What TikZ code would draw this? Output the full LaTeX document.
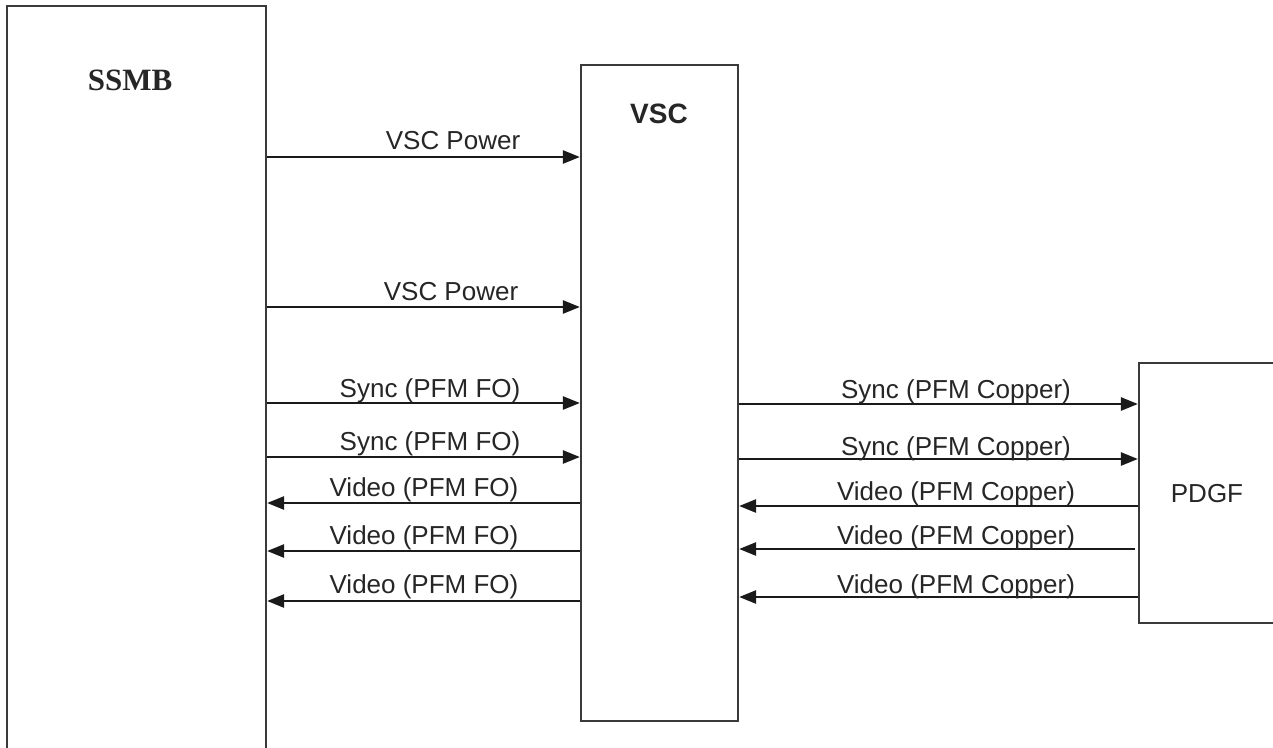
\documentclass[tikz,border=0pt]{standalone}
\usepackage{fontspec}
\setmainfont{Liberation Sans}
\newfontfamily\serifbf{Liberation Serif}
\usetikzlibrary{arrows.meta}
\definecolor{boxc}{HTML}{3A3A3A}
\definecolor{linec}{HTML}{1A1A1A}
\definecolor{txt}{HTML}{262626}
\tikzset{
  blockbox/.style={draw=boxc, line width=2.2pt, fill=none, inner sep=0pt},
  arr/.style={draw=linec, line width=2.5pt, -{Triangle[length=17pt,width=13pt]}},
  lbl/.style={text=txt, font=\fontsize{26}{30}\selectfont, anchor=base, inner sep=0pt}
}
\begin{document}
\begin{tikzpicture}[x=1pt,y=-1pt]
\clip (0,0) rectangle (1273,747);
\fill[white] (0,0) rectangle (1273,747);
% boxes
\node[blockbox, minimum width=259pt, minimum height=794pt] (ssmb) at (136.5,403) {};
\node[blockbox, minimum width=157pt, minimum height=656pt] (vsc) at (659.5,393) {};
\node[blockbox, minimum width=161pt, minimum height=260pt] (pdgf) at (1219.5,493) {};
% titles
\node[text=txt, font=\serifbf\bfseries\fontsize{31}{34}\selectfont, inner sep=0pt] (ssmbt) at (130,80) {SSMB};
\node[text=txt, font=\bfseries\fontsize{28}{32}\selectfont, inner sep=0pt] (vsct) at (659,114) {VSC};
\node[text=txt, font=\fontsize{26}{30}\selectfont, inner sep=0pt] (pdgft) at (1207,494) {PDGF};
% left arrows
\draw[arr] (ssmb.east |- 0,157) -- (vsc.west |- 0,157);
\node[lbl] (l1) at (453,149) {VSC Power};
\draw[arr] (ssmb.east |- 0,307) -- (vsc.west |- 0,307);
\node[lbl] (l2) at (451,300) {VSC Power};
\draw[arr] (ssmb.east |- 0,403) -- (vsc.west |- 0,403);
\node[lbl] (l3) at (430,397) {Sync (PFM FO)};
\draw[arr] (ssmb.east |- 0,457) -- (vsc.west |- 0,457);
\node[lbl] (l4) at (430,450) {Sync (PFM FO)};
\draw[arr] (vsc.west |- 0,503) -- (ssmb.east |- 0,503);
\node[lbl] (l5) at (424,496) {Video (PFM FO)};
\draw[arr] (vsc.west |- 0,551) -- (ssmb.east |- 0,551);
\node[lbl] (l6) at (424,544) {Video (PFM FO)};
\draw[arr] (vsc.west |- 0,601) -- (ssmb.east |- 0,601);
\node[lbl] (l7) at (424,593) {Video (PFM FO)};
% right arrows
\draw[arr] (vsc.east |- 0,404) -- (pdgf.west |- 0,404);
\node[lbl] (r1) at (956,398) {Sync (PFM Copper)};
\draw[arr] (vsc.east |- 0,459) -- (pdgf.west |- 0,459);
\node[lbl] (r2) at (956,455) {Sync (PFM Copper)};
\draw[arr] (pdgf.west |- 0,506) -- (vsc.east |- 0,506);
\node[lbl] (r3) at (956,500) {Video (PFM Copper)};
\draw[arr] ([xshift=-3pt]pdgf.west |- 0,549) -- (vsc.east |- 0,549);
\node[lbl] (r4) at (956,544) {Video (PFM Copper)};
\draw[arr] (pdgf.west |- 0,597) -- (vsc.east |- 0,597);
\node[lbl] (r5) at (956,593) {Video (PFM Copper)};
\end{tikzpicture}
\end{document}
